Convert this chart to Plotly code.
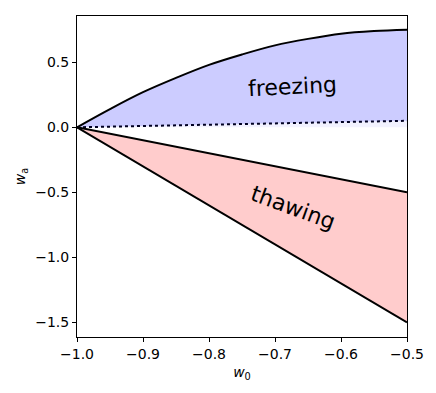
import plotly.graph_objects as go

# w0 grid and boundaries
w0 = [-1.0, -0.95, -0.9, -0.85, -0.8, -0.75, -0.7, -0.65, -0.6, -0.55, -0.5]
freeze_upper = [0.0, 0.14, 0.27, 0.38, 0.48, 0.56, 0.63, 0.68, 0.72, 0.74, 0.75]
freeze_lower = [0.0, 0.005, 0.01, 0.015, 0.02, 0.025, 0.03, 0.035, 0.04, 0.045, 0.05]
zero_line = [0.0] * len(w0)
thaw_upper = [0.0, -0.05, -0.1, -0.15, -0.2, -0.25, -0.3, -0.35, -0.4, -0.45, -0.5]
thaw_lower = [0.0, -0.15, -0.3, -0.45, -0.6, -0.75, -0.9, -1.05, -1.2, -1.35, -1.5]

x_ticks = [-1.0, -0.9, -0.8, -0.7, -0.6, -0.5]
y_ticks = [-1.5, -1.0, -0.5, 0.0, 0.5]

fig = go.Figure()

# faint strip between zero and the dotted line
fig.add_trace(go.Scatter(x=w0, y=zero_line, mode='lines', line=dict(width=0), showlegend=False, hoverinfo='skip'))
fig.add_trace(go.Scatter(x=w0, y=freeze_lower, mode='lines', line=dict(width=0), fill='tonexty',
                         fillcolor='rgba(0,0,255,0.05)', showlegend=False, hoverinfo='skip'))
# freezing region
fig.add_trace(go.Scatter(x=w0, y=freeze_upper, mode='lines', line=dict(color='black', width=2, shape='spline'),
                         fill='tonexty', fillcolor='rgba(0,0,255,0.2)', showlegend=False))
fig.add_trace(go.Scatter(x=w0, y=freeze_lower, mode='lines', line=dict(color='#000022', width=2, dash='dot'),
                         showlegend=False))
# thawing region
fig.add_trace(go.Scatter(x=w0, y=thaw_upper, mode='lines', line=dict(color='black', width=2), showlegend=False))
fig.add_trace(go.Scatter(x=w0, y=thaw_lower, mode='lines', line=dict(color='black', width=2), fill='tonexty',
                         fillcolor='rgba(255,0,0,0.2)', showlegend=False))

fig.add_annotation(x=-0.673, y=0.31, text='freezing', showarrow=False, textangle=-3,
                   font=dict(size=22, color='black', family='DejaVu Sans'))
fig.add_annotation(x=-0.673, y=-0.62, text='thawing', showarrow=False, textangle=20,
                   font=dict(size=22, color='black', family='DejaVu Sans'))

axis_style = dict(showgrid=False, zeroline=False, showline=True, linecolor='black', linewidth=1, mirror=True,
                  ticks='outside', ticklen=4, tickcolor='black',
                  tickfont=dict(size=14, color='black', family='DejaVu Sans'))

fig.update_xaxes(range=[-1.0, -0.5], tickvals=x_ticks, ticktext=[f'{v:.1f}'.replace('-', '\u2212') for v in x_ticks],
                 title=dict(text='<i>w</i><sub>0</sub>', font=dict(size=14, color='black', family='DejaVu Sans'),
                            standoff=6), **axis_style)
fig.update_yaxes(range=[-1.613, 0.856], tickvals=y_ticks, ticktext=[f'{v:.1f}'.replace('-', '\u2212') for v in y_ticks],
                 title=dict(text='<i>w</i><sub>a</sub>', font=dict(size=14, color='black', family='DejaVu Sans'),
                            standoff=6), **axis_style)

# page body adds 8px, so the figure is a bit smaller than the window
fig.update_layout(width=428, height=385, margin=dict(l=69, r=29, t=8, b=56, autoexpand=False),
                  plot_bgcolor='white', paper_bgcolor='white',
                  font=dict(family='DejaVu Sans', color='black'))

fig.write_html('out.html')
